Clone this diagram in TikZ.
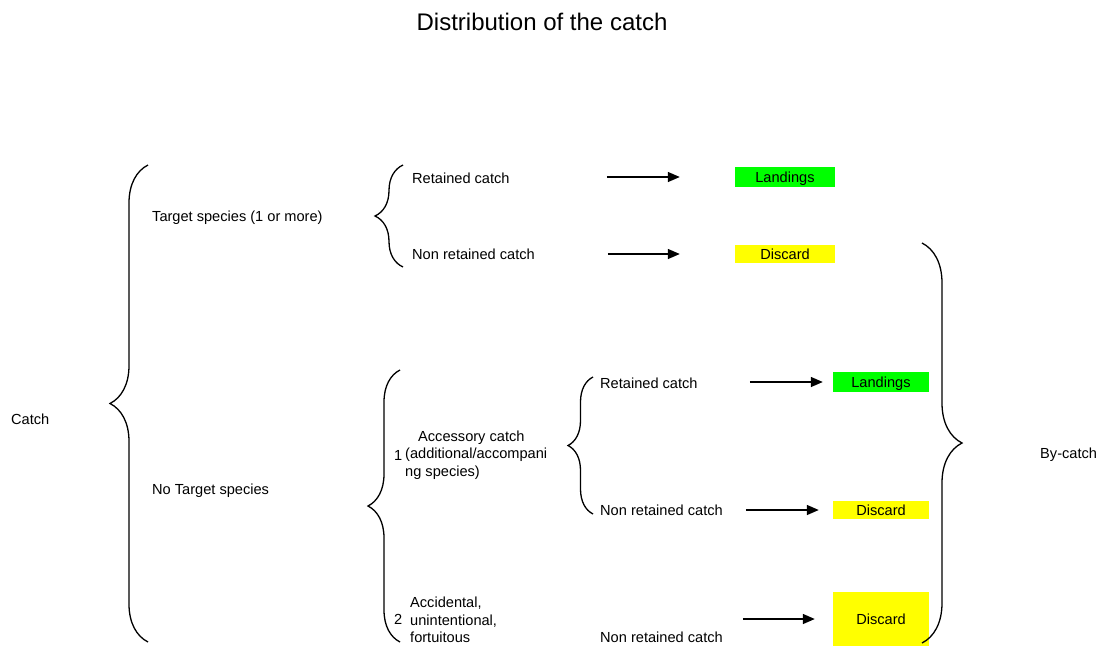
\documentclass[tikz,border=0pt]{standalone}
\usepackage{fontspec}
\setmainfont{Liberation Sans}
\usetikzlibrary{decorations.pathreplacing,arrows.meta}
\usepackage{xcolor}
\definecolor{mgreen}{RGB}{0,255,0}
\definecolor{myellow}{RGB}{255,255,0}

\begin{document}
\begin{tikzpicture}[
    x=1pt, y=-1pt,
    black,
    txt/.style={anchor=west,
        inner sep=0pt,
        font=\fontsize{14.6}{17.7}\selectfont},
    box/.style={inner sep=0pt,
        minimum width=100pt,
        minimum height=20pt,
        text height=11pt,
        text depth=1pt,
        font=\fontsize{14.6}{17.7}\selectfont},
    arr/.style={line width=1.4pt,
        -{Triangle[length=12pt,width=10pt]}},
    curly/.style={decoration={brace,
        amplitude=#1},
        decorate,
        line width=1.3pt}]

\useasboundingbox (0,0) rectangle (1100,646);

% Title
\node[font=\fontsize{24}{28}\selectfont] (title) at (542,22) {Distribution of the catch};

% Left labels
\node[txt] (catch) at (11,419) {Catch};
\node[txt] (target) at (152,218) {Target species (1 or more)};
\node[txt] (notarget) at (152,491) {No Target species};

% Target species branch
\node[txt] (ret1) at (412,178) {Retained catch};
\node[txt] (nonret1) at (412,254) {Non retained catch};

% No target species branch
\node[txt] (num1) at (394,455) {1};
\node[txt, align=left] (acc) at (405,455)
    {\hspace*{13pt}Accessory catch\\(additional/accompani\\ng species)};
\node[txt] (num2) at (394,619) {2};
\node[txt, align=left] (accid) at (410,620)
    {Accidental,\\unintentional,\\fortuitous};
\node[txt] (ret2) at (600,383) {Retained catch};
\node[txt] (nonret2) at (600,510) {Non retained catch};
\node[txt] (nonret3) at (600,637) {Non retained catch};

% By-catch label
\node[txt] (bycatch) at (1040,455) {By-catch};

% Boxes
\node[box, fill=mgreen] (land1) at (785,177) {Landings};
\node[box, fill=myellow, minimum height=18pt] (disc1) at (785,254) {Discard};
\node[box, fill=mgreen, minimum width=96pt] (land2) at (881,382) {Landings};
\node[box, fill=myellow, minimum width=96pt, minimum height=18pt] (disc2) at (881,510) {Discard};
\node[box, fill=myellow, minimum width=96pt, minimum height=54pt] (disc3) at (881,619) {Discard};

% Arrows
\draw[arr, shorten <=97pt, shorten >=55pt] (ret1.east |- land1.west) -- (land1.west);
\draw[arr, shorten <=73pt, shorten >=55pt] (nonret1.east |- disc1.west) -- (disc1.west);
\draw[arr, shorten <=52pt, shorten >=10pt] (ret2.east |- land2.west) -- (land2.west);
\draw[arr, shorten <=23pt, shorten >=14pt] (nonret2.east |- disc2.west) -- (disc2.west);
\draw[arr, shorten <=20pt, shorten >=18pt] (nonret3.east |- disc3.west) -- (disc3.west);

% Braces
\draw[curly=38pt] (148,642) -- (148,165);
\draw[curly=28pt] (403,267) -- (403,165);
\draw[curly=32pt] (400,642) -- (400,370);
\draw[curly=25pt] (593,514) -- (593,377);
\draw[curly=40pt] (922,243) -- (922,643);

\end{tikzpicture}
\end{document}
